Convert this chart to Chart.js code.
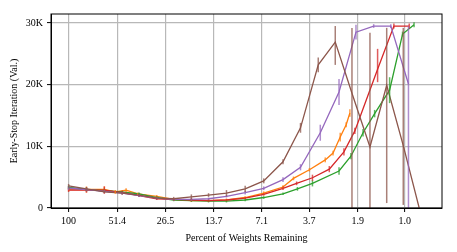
<!DOCTYPE html>
<html>
<head>
<meta charset="utf-8">
<script src="https://cdn.jsdelivr.net/npm/chart.js@4/dist/chart.umd.min.js"></script>
<style>
 html, body { margin: 0; padding: 0; background: #fff; }
 #wrap { width: 457px; height: 252px; }
</style>
</head>
<body>
<div id="wrap"><canvas id="earlyStop"></canvas></div>
<script>
// x: percent of weights remaining, y: early-stop iteration (thousands)
const xTicks = [100, 51.4, 26.5, 13.7, 7.1, 3.7, 1.9, 1.0];
const xTickLabels = ["100", "51.4", "26.5", "13.7", "7.1", "3.7", "1.9", "1.0"];
const yTicks = [0, 10, 20, 30];

const bluePct = [100, 78.3, 61.3, 48.0, 38.1];
const blueIter = [3.3, 3.0, 2.8, 2.5, 2.1];
const blueErr = [0.2, 0.2, 0.2, 0.2, 0.2];

const orangePct = [100, 78.3, 61.3, 52.8, 45.5, 38.7, 29.9, 23.7, 18.6, 14.7, 11.5, 8.9, 6.9, 5.3, 4.59, 3.69, 2.97, 2.67, 2.42, 2.23, 2.12];
const orangeIter = [3.0, 3.0, 3.0, 2.6, 2.9, 2.3, 1.9, 1.4, 1.2, 1.2, 1.3, 1.7, 2.4, 3.4, 4.8, 6.2, 7.8, 8.9, 11.5, 13.5, 15.4];
const orangeErr = [0.3, 0.5, 0.5, 0.3, 0.3, 0.2, 0.2, 0.2, 0.2, 0.2, 0.2, 0.2, 0.3, 0.3, 0.3, 0.3, 0.4, 0.4, 0.7, 0.4, 0.6];

const greenPct = [100, 78.3, 61.3, 48.0, 38.1, 29.9, 23.7, 18.6, 14.7, 11.5, 8.9, 6.9, 5.3, 4.35, 3.54, 2.46, 2.09, 1.77, 1.51, 1.23, 1.03, 0.88];
const greenIter = [3.3, 3.0, 2.8, 2.6, 2.3, 1.7, 1.3, 1.2, 1.1, 1.1, 1.3, 1.7, 2.3, 3.1, 4.0, 6.0, 8.4, 12.2, 15.3, 19.1, 28.2, 29.7];
const greenErr = [0.3, 0.3, 0.3, 0.2, 0.2, 0.2, 0.2, 0.2, 0.2, 0.2, 0.2, 0.2, 0.2, 0.3, 0.5, 0.6, 0.5, 0.6, 0.6, 2.1, 0.4, 0.4];

const redPct = [100, 78.3, 61.3, 48.0, 38.1, 29.9, 23.7, 18.6, 14.7, 11.5, 8.9, 6.9, 5.3, 4.40, 3.54, 2.81, 2.30, 1.98, 1.45, 1.16, 0.94];
const redIter = [2.9, 2.9, 2.9, 2.5, 2.0, 1.5, 1.4, 1.3, 1.2, 1.3, 1.6, 2.2, 3.2, 4.0, 4.9, 6.3, 9.1, 12.5, 22.5, 29.5, 29.5];
const redErr = [0.3, 0.4, 0.6, 0.3, 0.2, 0.2, 0.2, 0.2, 0.2, 0.2, 0.2, 0.2, 0.3, 0.3, 0.5, 0.5, 0.6, 0.5, [2.1, 3.3], 0.4, 0.4];

const purplePct = [100, 78.3, 61.3, 48.0, 38.1, 29.9, 23.7, 18.6, 14.7, 11.5, 8.9, 6.9, 5.3, 4.17, 3.18, 2.46, 1.95, 1.53, 1.21, 0.95];
const purpleIter = [3.2, 3.0, 2.7, 2.4, 2.0, 1.6, 1.4, 1.4, 1.5, 1.9, 2.5, 3.2, 4.6, 6.6, 12.2, 18.8, 28.5, 29.5, 29.5, 20.1];
const purpleErr = [0.3, 0.3, 0.2, 0.2, 0.2, 0.2, 0.2, 0.2, 0.2, 0.2, 0.3, 0.3, 0.4, 0.5, 1.3, 2.1, 1.2, 0.3, 0.3, [20.1, 9.4]];

const brownPct = [100, 78.3, 61.3, 48.0, 38.1, 29.9, 23.7, 18.6, 14.7, 11.5, 8.9, 6.9, 5.3, 4.17, 3.27, 2.59, 2.06, 1.61, 1.28, 1.02, 0.82];
const brownIter = [3.6, 3.1, 2.6, 2.4, 2.1, 1.6, 1.5, 1.8, 2.1, 2.4, 3.1, 4.4, 7.5, 13.0, 23.2, 26.9, 18.6, 9.9, 19.9, 10.1, 0.0];
const brownErr = [0.3, 0.3, 0.2, 0.2, 0.2, 0.2, 0.3, 0.4, 0.3, 0.5, 0.5, 0.4, 0.4, 0.8, 1.2, [3.7, 2.6], [18.6, 10.6], [9.9, 18.5], [19.1, 9.3], [9.6, 19.1], 0];

const seriesList = [
 { pct: bluePct, iter: blueIter, err: blueErr, color: "#1f77b4" },
 { pct: orangePct, iter: orangeIter, err: orangeErr, color: "#ff7f0e" },
 { pct: greenPct, iter: greenIter, err: greenErr, color: "#2ca02c" },
 { pct: redPct, iter: redIter, err: redErr, color: "#d62728" },
 { pct: purplePct, iter: purpleIter, err: purpleErr, color: "#9467bd" },
 { pct: brownPct, iter: brownIter, err: brownErr, color: "#8c564b" }
];

const serif = "'Liberation Serif', 'DejaVu Serif', serif";

// error bars drawn through the chart's scales
const errorBars = {
 id: "errorBars",
 afterDatasetsDraw(chart) {
  const { ctx, chartArea, scales } = chart;
  ctx.save();
  ctx.beginPath();
  ctx.rect(chartArea.left, chartArea.top, chartArea.right - chartArea.left, chartArea.bottom - chartArea.top);
  ctx.clip();
  ctx.lineWidth = 1.5;
  ctx.globalAlpha = 0.75;
  seriesList.forEach(s => {
   ctx.strokeStyle = s.color;
   s.err.forEach((e, i) => {
    const d = Array.isArray(e) ? e : [e, e];
    if (!d[0] && !d[1]) return;
    const px = scales.x.getPixelForValue(s.pct[i]);
    const yLo = scales.y.getPixelForValue(s.iter[i] - d[0]);
    const yHi = scales.y.getPixelForValue(s.iter[i] + d[1]);
    ctx.beginPath();
    ctx.moveTo(px, yLo);
    ctx.lineTo(px, yHi);
    ctx.stroke();
   });
  });
  ctx.restore();
 },
 afterDraw(chart) {
  const { ctx, chartArea } = chart;
  ctx.save();
  ctx.strokeStyle = "#000";
  ctx.lineWidth = 1;
  ctx.strokeRect(chartArea.left, chartArea.top, chartArea.right - chartArea.left, chartArea.bottom - chartArea.top);
  ctx.restore();
 }
};

const datasets = seriesList.map((s, i) => ({
 data: s.pct.map((p, j) => ({ x: p, y: s.iter[j] })),
 borderColor: s.color,
 backgroundColor: s.color,
 borderWidth: 1.3,
 pointRadius: 0,
 showLine: true,
 tension: 0,
 order: seriesList.length - i
}));

new Chart(document.getElementById("earlyStop"), {
 type: "scatter",
 data: { datasets: datasets },
 options: {
  responsive: true,
  maintainAspectRatio: false,
  animation: false,
  layout: { padding: { top: 14, right: 15, left: 0, bottom: 0 } },
  plugins: { legend: { display: false }, tooltip: { enabled: false } },
  scales: {
   x: {
    type: "logarithmic",
    reverse: true,
    min: 0.618,
    max: 127.3,
    afterBuildTicks: scale => { scale.ticks = xTicks.map(v => ({ value: v })); },
    afterFit: scale => { scale.height = 44; },
    ticks: {
     autoSkip: false,
     maxRotation: 0,
     padding: 3,
     color: "#000",
     font: { family: serif, size: 10 },
     callback: (v, i) => xTickLabels[i]
    },
    grid: { color: "#b8b8b8", lineWidth: 1.2, tickColor: "#000", tickLength: 4, tickWidth: 1 },
    border: { color: "#000", width: 1 },
    title: {
     display: true,
     text: "Percent of Weights Remaining",
     color: "#000",
     font: { family: serif, size: 10 },
     padding: { top: 0, bottom: 8 }
    }
   },
   y: {
    min: 0,
    max: 31.45,
    afterBuildTicks: scale => { scale.ticks = yTicks.map(v => ({ value: v })); },
    afterFit: scale => { scale.width = 51; },
    ticks: {
     padding: 4,
     color: "#000",
     font: { family: serif, size: 10 },
     callback: v => (v === 0 ? "0" : v + "K")
    },
    grid: { color: "#b8b8b8", lineWidth: 1.2, tickColor: "#000", tickLength: 4, tickWidth: 1 },
    border: { color: "#000", width: 1 },
    title: {
     display: true,
     text: "Early-Stop Iteration (Val.)",
     color: "#000",
     font: { family: serif, size: 10 },
     padding: { top: 8, bottom: 0 }
    }
   }
  }
 },
 plugins: [errorBars]
});
</script>
</body>
</html>
